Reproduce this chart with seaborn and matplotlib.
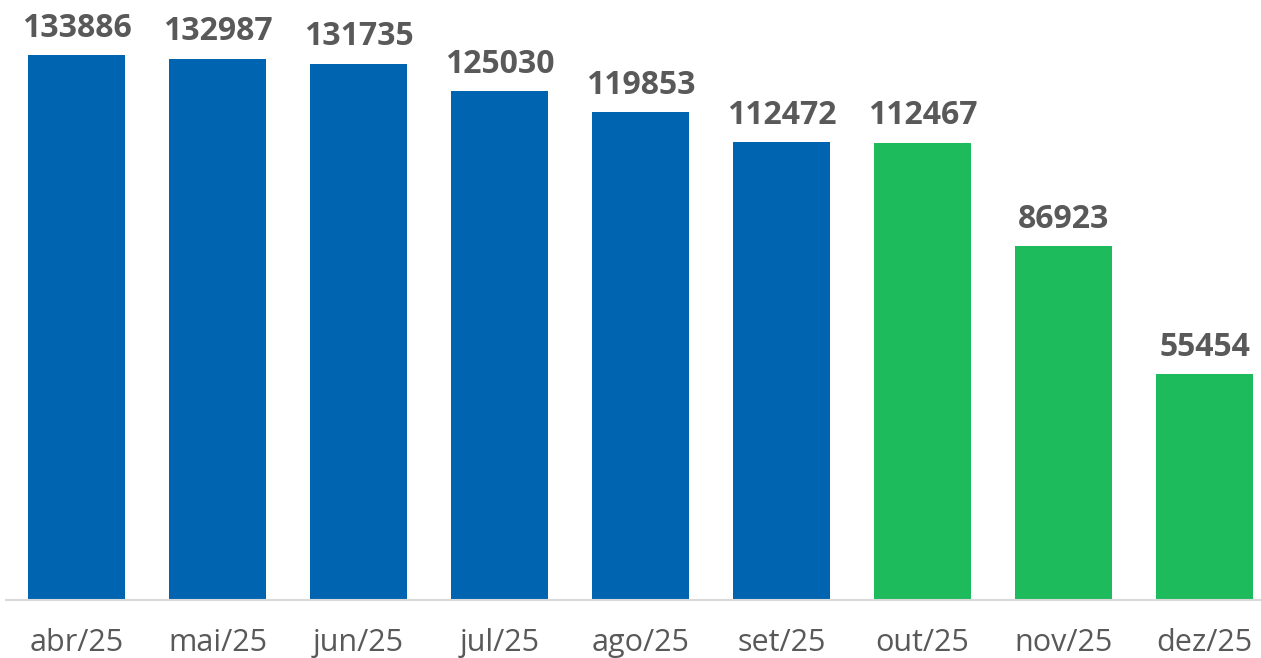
import matplotlib
matplotlib.use("Agg")
import matplotlib.pyplot as plt
import seaborn as sns
import pandas as pd

months = ["abr/25", "mai/25", "jun/25", "jul/25", "ago/25", "set/25", "out/25", "nov/25", "dez/25"]
values = [133886, 132987, 131735, 125030, 119853, 112472, 112467, 86923, 55454]
groups = ["a", "a", "a", "a", "a", "a", "b", "b", "b"]
group_colors = {"a": "#0064B0", "b": "#1DBB5B"}

sns.set_theme(style="white")
plt.rcParams["font.family"] = ["Open Sans", "DejaVu Sans"]

df = pd.DataFrame({"month": months, "value": values, "group": groups})

fig = plt.figure(figsize=(12.61, 6.58), dpi=100)
ax = fig.add_axes([6 / 1261, 58 / 658, 1 - 6 / 1261, 600 / 658])

sns.barplot(data=df, x="month", y="value", hue="group", palette=group_colors,
            dodge=False, width=0.69, saturation=1, legend=False, linewidth=0, ax=ax)

ax.set_xlim(-0.5, 8.4)
ax.set_ylim(0, 147500)

for i, v in enumerate(values):
    ax.annotate(str(v), (i, v), xytext=(0, 13.5), textcoords="offset points",
                ha="center", va="baseline", fontsize=23, fontweight="bold",
                color="#595959")

ax.set_xlabel("")
ax.set_ylabel("")
ax.set_yticks([])
ax.tick_params(axis="x", length=0, pad=20, labelsize=22, labelcolor="#595959")
for s in ["top", "left", "right"]:
    ax.spines[s].set_visible(False)
ax.spines["bottom"].set_color("#D9D9D9")
ax.spines["bottom"].set_linewidth(1.5)

fig.savefig("out.png", dpi=100)
